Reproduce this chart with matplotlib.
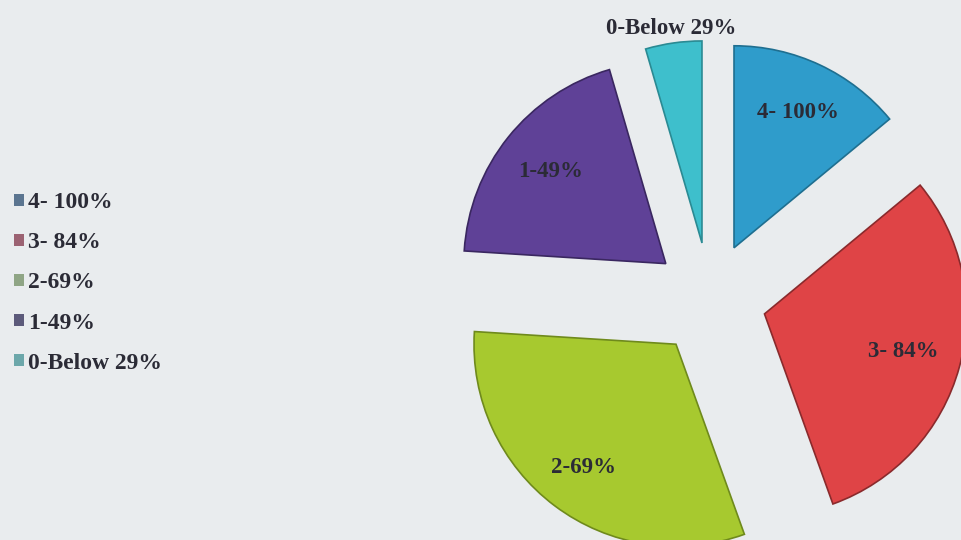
import numpy as np
import matplotlib
matplotlib.use('Agg')
import matplotlib.pyplot as plt
from matplotlib.patches import Patch

# slices, clockwise from the top
labels = ['4- 100%', '3- 84%', '2-69%', '1-49%', '0-Below 29%']
shares = [14, 30.5, 31.5, 19.5, 4.5]
colors = ['#2f9ccb', '#df4446', '#a7c92f', '#5f4197', '#3ebfcc']
edges = ['#1f6f90', '#8a2a2c', '#6f8a1c', '#3a2760', '#2a8a93']
legend_colors = ['#5b7590', '#9b6272', '#8fa585', '#5c5a7a', '#6ca7aa']

plt.rcParams['font.family'] = ['Liberation Serif', 'DejaVu Serif']

fig = plt.figure(figsize=(9.62, 5.4), dpi=100)
fig.patch.set_facecolor('#e9ecee')
ax = fig.add_axes([0, 0, 1, 1])
ax.set_facecolor('#e9ecee')

wedges, _ = ax.pie(shares, colors=colors, startangle=90, counterclock=False,
                   explode=[0.28] * 5, radius=1,
                   wedgeprops=dict(linewidth=1.2))
for w, ec in zip(wedges, edges):
    w.set_edgecolor(ec)

# labels inside the slices (the small one sits outside, above)
dist = [0.74, 0.71, 0.76, 0.73, 1.07]
for w, lab, d in zip(wedges, labels, dist):
    ang = np.deg2rad((w.theta1 + w.theta2) / 2)
    cx, cy = w.center
    ax.text(cx + d * w.r * np.cos(ang), cy + d * w.r * np.sin(ang), lab,
            ha='center', va='center', fontsize=16.5, fontweight='bold',
            color='#2b2b36')

ax.set_xlim(-3.515, 1.248)
ax.set_ylim(-1.193, 1.480)
ax.set_aspect('auto')
ax.axis('off')

handles = [Patch(facecolor=c, edgecolor='none') for c in legend_colors]
leg = fig.legend(handles, labels, loc='upper left', bbox_to_anchor=(0.002, 0.666),
                 frameon=False, handlelength=0.42, handleheight=0.42,
                 handletextpad=0.2, labelspacing=0.81, borderpad=0,
                 prop=dict(family='Liberation Serif', weight='bold', size=17))
for t in leg.get_texts():
    t.set_color('#2b2b36')

fig.savefig('out.png', dpi=100, facecolor=fig.get_facecolor())
